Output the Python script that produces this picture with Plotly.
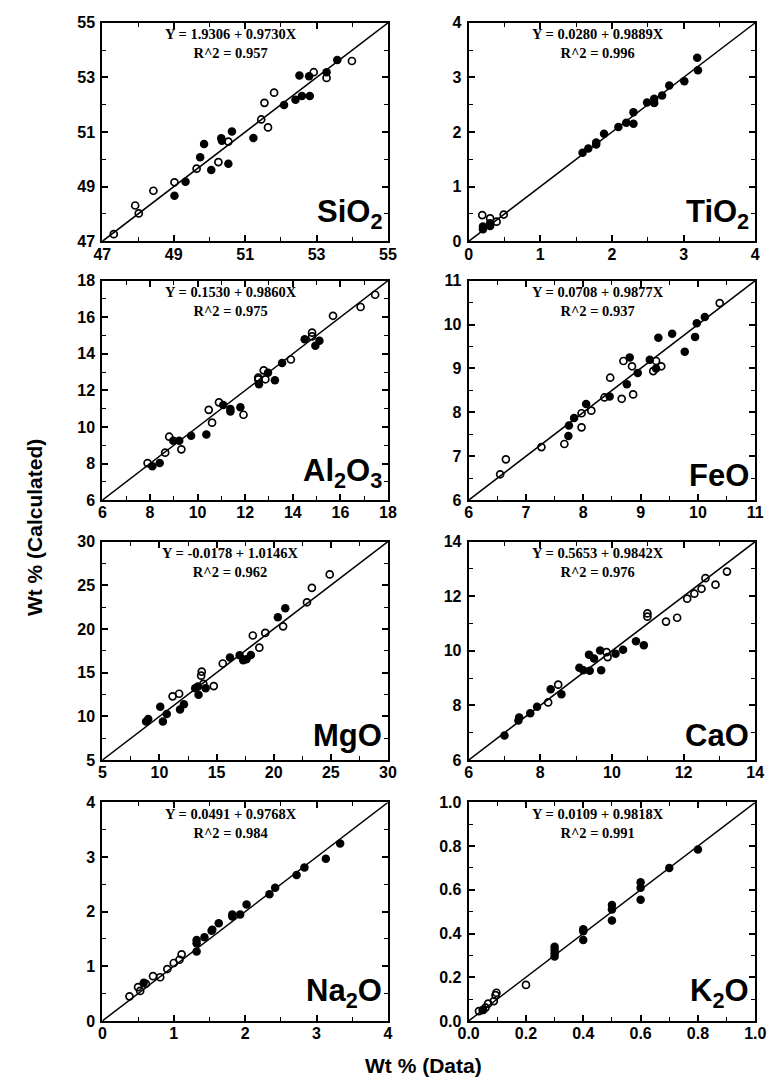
import plotly.graph_objects as go

W, H = 775, 1089

# ---------------- data ----------------
oxides = ["SiO2", "TiO2", "Al2O3", "FeO", "MgO", "CaO", "Na2O", "K2O"]
oxide_labels = ["SiO<sub>2</sub>", "TiO<sub>2</sub>", "Al<sub>2</sub>O<sub>3</sub>", "FeO",
                "MgO", "CaO", "Na<sub>2</sub>O", "K<sub>2</sub>O"]
equations = ["Y = 1.9306 + 0.9730X", "Y = 0.0280 + 0.9889X", "Y = 0.1530 + 0.9860X",
             "Y = 0.0708 + 0.9877X", "Y = -0.0178 + 1.0146X", "Y = 0.5653 + 0.9842X",
             "Y = 0.0491 + 0.9768X", "Y = 0.0109 + 0.9818X"]
r2_labels = ["R^2 = 0.957", "R^2 = 0.996", "R^2 = 0.975", "R^2 = 0.937",
             "R^2 = 0.962", "R^2 = 0.976", "R^2 = 0.984", "R^2 = 0.991"]
axis_ranges = [[47, 55], [0, 4], [6, 18], [6, 11], [5, 30], [6, 14], [0, 4], [0, 1.0]]
major_dtick = [2, 1, 2, 1, 5, 2, 1, 0.2]
minor_dtick = [1, 0.5, 1, 0.5, 2.5, 1, 0.5, 0.1]
tick_formats = ["d", "d", "d", "d", "d", "d", "d", ".1f"]

# filled circles (data, calculated)
sio2_filled_x = [49.02, 49.33, 49.74, 49.85, 50.05, 50.33, 50.35, 50.53, 50.63, 51.23, 52.09, 52.41, 52.52, 52.59, 52.81, 52.79, 53.28, 53.58]
sio2_filled_y = [48.67, 49.18, 50.08, 50.56, 49.61, 50.77, 50.68, 49.84, 51.02, 50.78, 51.99, 52.18, 53.07, 52.32, 52.32, 53.04, 53.19, 53.64]
sio2_open_x = [47.32, 47.92, 48.02, 48.43, 49.02, 49.64, 50.25, 50.53, 51.45, 51.54, 51.64, 51.81, 52.92, 53.28, 53.99]
sio2_open_y = [47.26, 48.31, 48.02, 48.85, 49.16, 49.66, 49.90, 50.65, 51.46, 52.07, 51.17, 52.44, 53.19, 52.98, 53.60]

tio2_filled_x = [0.20, 0.20, 0.30, 0.30, 1.59, 1.67, 1.78, 1.78, 1.89, 2.09, 2.20, 2.30, 2.30, 2.49, 2.59, 2.59, 2.70, 2.80, 3.01, 3.19, 3.20]
tio2_filled_y = [0.22, 0.27, 0.28, 0.33, 1.62, 1.70, 1.81, 1.77, 1.97, 2.09, 2.17, 2.36, 2.15, 2.54, 2.61, 2.53, 2.67, 2.85, 2.93, 3.36, 3.13]
tio2_open_x = [0.19, 0.30, 0.39, 0.49]
tio2_open_y = [0.48, 0.42, 0.36, 0.49]

al2o3_filled_x = [8.10, 8.41, 8.98, 9.23, 9.73, 10.37, 11.08, 11.38, 11.38, 11.80, 12.58, 12.96, 13.25, 13.55, 14.50, 14.95, 15.12]
al2o3_filled_y = [7.85, 8.03, 9.25, 9.25, 9.52, 9.59, 11.21, 10.85, 10.99, 11.08, 12.34, 12.97, 12.56, 13.50, 14.80, 14.44, 14.71]
al2o3_open_x = [7.90, 8.64, 8.81, 9.32, 10.61, 10.47, 10.90, 11.93, 12.55, 12.55, 12.78, 12.85, 13.92, 15.69, 14.81, 14.81, 16.85, 17.46]
al2o3_open_y = [8.03, 8.60, 9.47, 8.78, 10.24, 10.94, 11.35, 10.67, 12.61, 12.70, 13.10, 12.61, 13.69, 16.08, 15.16, 14.95, 16.56, 17.23]

feo_filled_x = [7.74, 7.75, 7.84, 8.05, 8.46, 8.76, 8.81, 8.95, 9.16, 9.27, 9.31, 9.55, 9.77, 9.95, 9.98, 10.12]
feo_filled_y = [7.46, 7.70, 7.87, 8.19, 8.36, 8.64, 9.25, 8.90, 9.20, 9.00, 9.70, 9.79, 9.38, 9.72, 10.03, 10.17]
feo_open_x = [6.55, 6.65, 7.27, 7.67, 7.97, 7.97, 8.14, 8.37, 8.47, 8.67, 8.70, 8.85, 8.87, 9.22, 9.27, 9.36, 10.38]
feo_open_y = [6.59, 6.93, 7.21, 7.28, 7.66, 7.98, 8.04, 8.34, 8.79, 8.31, 9.17, 9.05, 8.41, 8.94, 9.17, 9.05, 10.49]

mgo_filled_x = [8.83, 9.02, 10.07, 10.30, 10.64, 11.80, 12.14, 13.13, 13.36, 13.42, 14.04, 16.17, 17.02, 17.33, 17.61, 18.00, 20.36, 21.01]
mgo_filled_y = [9.40, 9.70, 11.09, 9.40, 10.26, 10.79, 11.39, 13.23, 13.42, 12.48, 13.23, 16.73, 16.99, 16.43, 16.54, 17.03, 21.35, 22.37]
mgo_open_x = [11.15, 11.72, 13.65, 13.70, 13.84, 14.75, 15.54, 18.17, 18.74, 19.26, 20.82, 22.91, 23.34, 24.90]
mgo_open_y = [12.29, 12.59, 14.66, 15.11, 13.72, 13.46, 16.05, 19.25, 17.86, 19.55, 20.30, 23.05, 24.70, 26.24]

cao_filled_x = [7.00, 7.39, 7.41, 7.72, 7.91, 8.29, 8.59, 9.09, 9.20, 9.38, 9.36, 9.50, 9.67, 9.70, 10.10, 10.31, 10.67, 10.89]
cao_filled_y = [6.90, 7.45, 7.56, 7.71, 7.95, 8.59, 8.41, 9.38, 9.29, 9.27, 9.86, 9.72, 10.01, 9.29, 9.89, 10.04, 10.35, 10.20]
cao_open_x = [8.22, 8.50, 9.88, 9.85, 10.99, 10.99, 11.51, 11.82, 12.10, 12.30, 12.50, 12.61, 12.89, 13.21]
cao_open_y = [8.11, 8.76, 9.77, 9.95, 11.25, 11.37, 11.07, 11.21, 11.91, 12.09, 12.27, 12.66, 12.42, 12.90]

na2o_filled_x = [0.58, 1.32, 1.32, 1.32, 1.43, 1.53, 1.54, 1.63, 1.82, 1.82, 1.93, 2.02, 2.34, 2.42, 2.72, 2.83, 3.13, 3.33]
na2o_filled_y = [0.70, 1.42, 1.48, 1.27, 1.53, 1.65, 1.67, 1.79, 1.95, 1.91, 1.95, 2.13, 2.32, 2.44, 2.67, 2.81, 2.97, 3.25]
na2o_open_x = [0.38, 0.50, 0.53, 0.61, 0.71, 0.81, 0.91, 1.00, 1.08, 1.11]
na2o_open_y = [0.45, 0.62, 0.55, 0.68, 0.82, 0.80, 0.95, 1.06, 1.12, 1.22]

k2o_filled_x = [0.051, 0.30, 0.30, 0.30, 0.30, 0.40, 0.40, 0.40, 0.50, 0.50, 0.50, 0.60, 0.60, 0.60, 0.70, 0.80]
k2o_filled_y = [0.050, 0.295, 0.310, 0.325, 0.340, 0.410, 0.420, 0.370, 0.510, 0.530, 0.460, 0.635, 0.610, 0.555, 0.700, 0.785]
k2o_open_x = [0.036, 0.049, 0.059, 0.068, 0.088, 0.094, 0.097, 0.200]
k2o_open_y = [0.045, 0.050, 0.061, 0.079, 0.091, 0.118, 0.129, 0.165]

filled = [(sio2_filled_x, sio2_filled_y), (tio2_filled_x, tio2_filled_y), (al2o3_filled_x, al2o3_filled_y),
          (feo_filled_x, feo_filled_y), (mgo_filled_x, mgo_filled_y), (cao_filled_x, cao_filled_y),
          (na2o_filled_x, na2o_filled_y), (k2o_filled_x, k2o_filled_y)]
opened = [(sio2_open_x, sio2_open_y), (tio2_open_x, tio2_open_y), (al2o3_open_x, al2o3_open_y),
          (feo_open_x, feo_open_y), (mgo_open_x, mgo_open_y), (cao_open_x, cao_open_y),
          (na2o_open_x, na2o_open_y), (k2o_open_x, k2o_open_y)]

# ---------------- layout geometry (pixels) ----------------
col_px = [(94, 388), (471, 766)]
row_px = [(15, 237), (277, 500), (542, 764), (807, 1029)]

fig = go.Figure()
TICK_FONT = dict(family="Liberation Sans, Arial", size=16, color="black", weight="bold")
EQ_FONT = dict(family="Liberation Serif, Times New Roman", size=14.5, color="black", weight="bold")
LAB_FONT = dict(family="Liberation Sans, Arial", size=31, color="black", weight="bold")
TITLE_FONT = dict(family="Liberation Sans, Arial", size=21, color="black", weight="bold")

layout = {}
annotations = []
for i in range(8):
    r, c = divmod(i, 2)
    n = "" if i == 0 else str(i + 1)
    xd = [col_px[c][0] / W, col_px[c][1] / W]
    yd = [1 - row_px[r][1] / H, 1 - row_px[r][0] / H]
    rng = axis_ranges[i]
    common = dict(
        range=rng, showline=True, linewidth=2, linecolor="black", mirror="ticks",
        ticks="inside", ticklen=6, tickwidth=1.5, tickcolor="black",
        tick0=rng[0], dtick=major_dtick[i], tickfont=TICK_FONT,
        tickformat=tick_formats[i], showgrid=False, zeroline=False,
        minor=dict(ticks="inside", ticklen=4, tickwidth=1.2, tickcolor="black",
                   dtick=minor_dtick[i], tick0=rng[0], showgrid=False),
    )
    layout["xaxis" + n] = dict(domain=xd, anchor="y" + n, ticklabelstandoff=-3, **common)
    layout["yaxis" + n] = dict(domain=yd, anchor="x" + n, ticklabelstandoff=2, **common)

    fx, fy = filled[i]
    ox, oy = opened[i]
    # 1:1 line across the panel
    fig.add_trace(go.Scatter(x=rng, y=rng, mode="lines", line=dict(color="black", width=1.5),
                             xaxis="x" + n, yaxis="y" + n, showlegend=False, hoverinfo="skip"))
    fig.add_trace(go.Scatter(x=ox, y=oy, mode="markers",
                             marker=dict(symbol="circle-open", size=7, color="black", line=dict(width=1.7)),
                             xaxis="x" + n, yaxis="y" + n, showlegend=False))
    fig.add_trace(go.Scatter(x=fx, y=fy, mode="markers",
                             marker=dict(symbol="circle", size=8.5, color="black"),
                             xaxis="x" + n, yaxis="y" + n, showlegend=False))

    xref = ("x" + n) + " domain"
    yref = ("y" + n) + " domain"
    annotations.append(dict(text=equations[i] + "<br>" + r2_labels[i], xref=xref, yref=yref,
                            x=0.45, y=0.905, xanchor="center", yanchor="middle", align="center",
                            showarrow=False, font=EQ_FONT, borderpad=0))
    annotations.append(dict(text=oxide_labels[i], xref=xref, yref=yref, x=0.985, y=0.025,
                            xanchor="right", yanchor="bottom", showarrow=False, font=LAB_FONT))

annotations.append(dict(text="Wt % (Data)", xref="paper", yref="paper", x=425 / W, y=1 - 1074 / H,
                        xanchor="center", yanchor="middle", showarrow=False, font=TITLE_FONT))
annotations.append(dict(text="Wt % (Calculated)", xref="paper", yref="paper", x=24 / W, y=1 - 528 / H,
                        xanchor="center", yanchor="middle", showarrow=False, textangle=-90,
                        font=TITLE_FONT))

fig.update_layout(width=W, height=H, margin=dict(l=0, r=0, t=0, b=0), autosize=False,
                  paper_bgcolor="white", plot_bgcolor="white", annotations=annotations, **layout)
fig.write_html("out.html")
